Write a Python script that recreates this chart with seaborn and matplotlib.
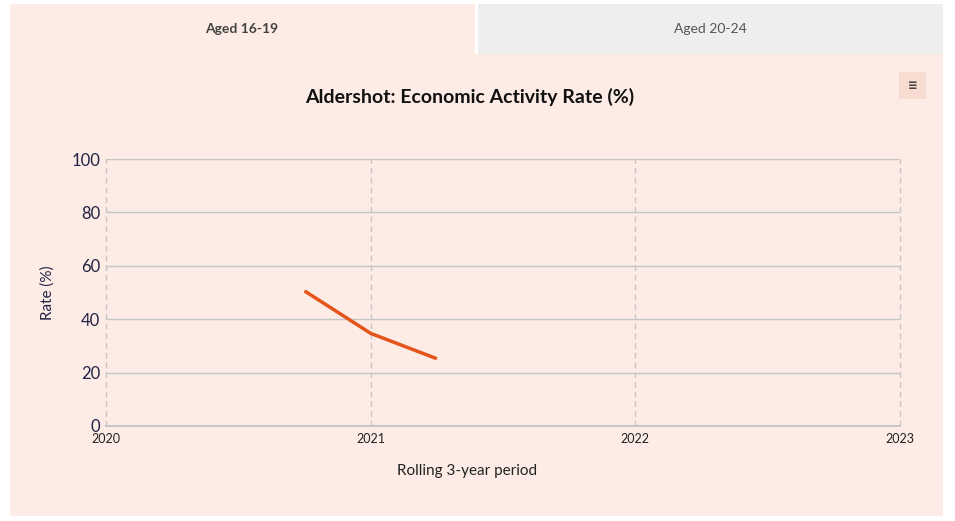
import matplotlib
matplotlib.use("Agg")
import matplotlib.pyplot as plt
import matplotlib.patches as mpatches
import seaborn as sns
import pandas as pd

# Data
periods = [2020.75, 2021.0, 2021.25]
rates = [50.6, 34.7, 25.2]
x_ticks = [2020, 2021, 2022, 2023]
y_ticks = [0, 20, 40, 60, 80, 100]
tab_labels = ["Aged 16-19", "Aged 20-24"]
title = "Aldershot: Economic Activity Rate (%)"

df = pd.DataFrame({"period": periods, "rate": rates})

sns.set_theme(style="white")
plt.rcParams["font.family"] = ["Lato", "DejaVu Sans"]

W, H = 955, 521
fig = plt.figure(figsize=(W / 100, H / 100), dpi=100)
fig.patch.set_facecolor("white")

def px_rect(x0, y0, x1, y1, color, z=-10):
    r = mpatches.Rectangle((x0 / W, 1 - y1 / H), (x1 - x0) / W, (y1 - y0) / H,
                           transform=fig.transFigure, facecolor=color,
                           edgecolor="none", zorder=z)
    fig.patches.append(r)

panel = "#fcece5"
px_rect(10, 4, 943, 516, panel, -10)
px_rect(478, 4, 943, 54, "#eeeeee", -9)
px_rect(475, 4, 478, 54, "white", -9)
px_rect(899, 72, 926, 99, "#f9dcd1", -9)

fig.text(242 / W, 1 - 29 / H, tab_labels[0], ha="center", va="center",
         fontsize=10, fontweight="bold", color="#444444")
fig.text(710 / W, 1 - 29 / H, tab_labels[1], ha="center", va="center",
         fontsize=10, color="#555555")
fig.text(912.5 / W, 1 - 86 / H, "\u2261", ha="center", va="center",
         fontsize=12, color="#444444", fontweight="bold")
fig.text(470 / W, 1 - 97 / H, title, ha="center", va="center",
         fontsize=14, fontweight="bold", color="#111111")

ax = fig.add_axes([106 / W, 1 - 426 / H, 794 / W, 267 / H])
ax.set_zorder(1)
ax.set_facecolor(panel)
sns.lineplot(data=df, x="period", y="rate", ax=ax, color="#e5541b",
             linewidth=2.5, solid_capstyle="butt")

ax.set_xlim(2020, 2023)
ax.set_ylim(0, 100)
ax.set_xticks(x_ticks)
ax.set_xticklabels([str(t) for t in x_ticks], fontsize=9, color="#222222")
ax.set_yticks(y_ticks)
ax.set_yticklabels([str(t) for t in y_ticks], fontsize=12, color="#222244")
ax.tick_params(axis="x", length=0, pad=5)
ax.tick_params(axis="y", length=0, pad=4)

ax.grid(False)
for y in y_ticks[1:]:
    ax.axhline(y, color="#c6c6c6", linewidth=1, zorder=0)
for x in x_ticks:
    ax.axvline(x, color="#c6c6c6", linewidth=1, linestyle=(0, (4, 3)),
               zorder=0, clip_on=False)

for s in ["top", "right", "left"]:
    ax.spines[s].set_visible(False)
ax.spines["bottom"].set_color("#c0c0c0")
ax.spines["bottom"].set_linewidth(1.2)

ax.set_xlabel("Rolling 3-year period", fontsize=11, color="#222222")
ax.xaxis.set_label_coords((467 - 106) / 794, -(471 - 426) / 267)
ax.xaxis.label.set_va("center")
ax.set_ylabel("Rate (%)", fontsize=11, color="#222244", labelpad=12)

fig.savefig("out.png", dpi=100, facecolor=fig.get_facecolor())
